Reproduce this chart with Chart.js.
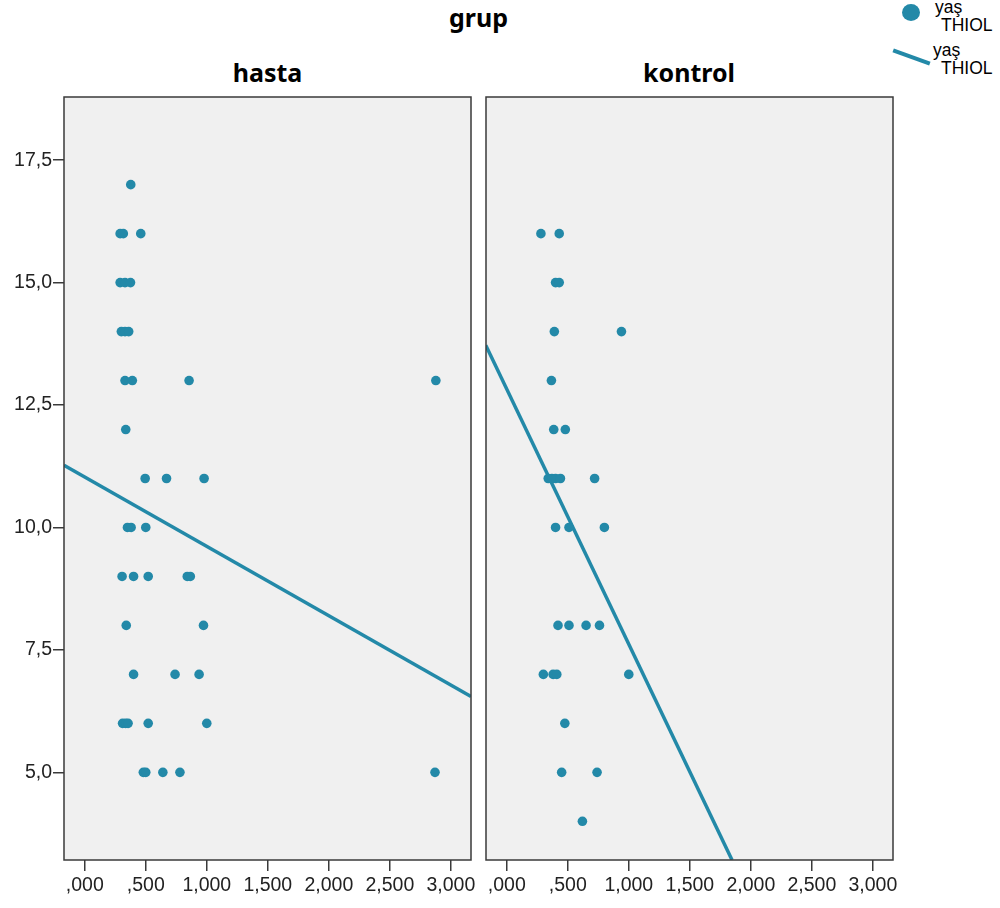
<!DOCTYPE html>
<html>
<head>
<meta charset="utf-8">
<script src="https://cdn.jsdelivr.net/npm/chart.js@4.4.1/dist/chart.umd.min.js"></script>
<style>
    body { margin: 0; background: #fff; width: 1000px; height: 908px; position: relative; overflow: hidden; }
    canvas { position: absolute; top: 0; }
    .ttl { position: absolute; font-family: 'Noto Sans', sans-serif; font-weight: bold; font-size: 25px; line-height: 25px; color: #000; text-align: center; white-space: nowrap; width: 200px; }
    .lg { position: absolute; font-family: 'Liberation Sans', Arial, sans-serif; font-size: 17.5px; line-height: 17px; color: #000; white-space: nowrap; }
</style>
</head>
<body>
<div class="ttl" style="left:378.5px; top:5px;">grup</div>
<div class="ttl" style="left:167.5px; top:60px;">hasta</div>
<div class="ttl" style="left:589px; top:60px;">kontrol</div>

<div style="position:absolute; left:902px; top:4px; width:18px; height:17px; border-radius:50%; background:#2389a8;"></div>
<div class="lg" style="left:935px; top:-1px;">yaş</div>
<div class="lg" style="left:941px; top:17px;">THIOL</div>
<div style="position:absolute; left:892px; top:54.5px; width:39px; height:4px; background:#2389a8; transform:rotate(20deg);"></div>
<div class="lg" style="left:933px; top:42px;">yaş</div>
<div class="lg" style="left:941px; top:60px;">THIOL</div>

<canvas id="hasta-chart" width="480" height="908" style="left:0; width:480px; height:908px;"></canvas>
<canvas id="kontrol-chart" width="420" height="908" style="left:480px; width:420px; height:908px;"></canvas>

<script>
// hasta group: THIOL (x) and yas (y)
var hastaThiol = [0.377,
    0.29, 0.316, 0.459,
    0.29, 0.33, 0.375,
    0.30, 0.33, 0.36,
    0.33, 0.39, 0.855, 2.877,
    0.336,
    0.495, 0.67, 0.978,
    0.35, 0.38, 0.50,
    0.306, 0.40, 0.52, 0.84, 0.865,
    0.34, 0.973,
    0.40, 0.74, 0.937,
    0.31, 0.335, 0.355, 0.52, 1.0,
    0.48, 0.50, 0.64, 0.78, 2.87];
var hastaYas = [17,
    16, 16, 16,
    15, 15, 15,
    14, 14, 14,
    13, 13, 13, 13,
    12,
    11, 11, 11,
    10, 10, 10,
    9, 9, 9, 9, 9,
    8, 8,
    7, 7, 7,
    6, 6, 6, 6, 6,
    5, 5, 5, 5, 5];

// kontrol group
var kontrolThiol = [0.28, 0.43,
    0.40, 0.43,
    0.39, 0.94,
    0.366,
    0.385, 0.48,
    0.34, 0.37, 0.40, 0.44, 0.72,
    0.40, 0.51, 0.80,
    0.42, 0.51, 0.65, 0.76,
    0.30, 0.38, 0.41, 1.00,
    0.476,
    0.45, 0.74,
    0.62];
var kontrolYas = [16, 16,
    15, 15,
    14, 14,
    13,
    12, 12,
    11, 11, 11, 11, 11,
    10, 10, 10,
    8, 8, 8, 8,
    7, 7, 7, 7,
    6,
    5, 5,
    4];

// fit line end points
var hastaFitThiol = [-0.17, 3.165];
var hastaFitYas = [11.27, 6.55];
var kontrolFitThiol = [-0.172, 1.846];
var kontrolFitYas = [13.72, 3.21];

var xTicks = [0, 0.5, 1, 1.5, 2, 2.5, 3];
var xTickLabels = [',000', ',500', '1,000', '1,500', '2,000', '2,500', '3,000'];
var yTicks = [5, 7.5, 10, 12.5, 15, 17.5];
var yTickLabels = ['5,0', '7,5', '10,0', '12,5', '15,0', '17,5'];

var markColor = '#2389a8';
var tickFont = { family: "'Liberation Sans', Arial, sans-serif", size: 19.5 };

var panelFrame = {
    id: 'panelFrame',
    beforeDraw: function (chart) {
        var a = chart.chartArea, c = chart.ctx;
        c.save();
        c.fillStyle = '#f0f0f0';
        c.fillRect(a.left, a.top, a.right - a.left, a.bottom - a.top);
        c.restore();
    },
    afterDraw: function (chart) {
        var a = chart.chartArea, c = chart.ctx;
        c.save();
        c.strokeStyle = '#3a3a3a';
        c.lineWidth = 1.5;
        c.strokeRect(a.left, a.top, a.right - a.left, a.bottom - a.top);
        c.restore();
    }
};

function makePanel(id, thiol, yas, fitX, fitY, showY, padLeft, padRight) {
    var points = [], fit = [];
    for (var i = 0; i < thiol.length; i++) {
        points.push({ x: thiol[i], y: yas[i] });
    }
    for (var i = 0; i < fitX.length; i++) {
        fit.push({ x: fitX[i], y: fitY[i] });
    }
    return new Chart(document.getElementById(id), {
        type: 'scatter',
        data: {
            datasets: [
                {
                    label: 'yaş THIOL',
                    data: points,
                    backgroundColor: markColor,
                    borderWidth: 0,
                    pointRadius: 4.8
                },
                {
                    label: 'yaş THIOL fit',
                    data: fit,
                    showLine: true,
                    borderColor: markColor,
                    borderWidth: 3.5,
                    pointRadius: 0,
                    clip: 0
                }
            ]
        },
        options: {
            responsive: false,
            animation: false,
            events: [],
            layout: { padding: { left: padLeft, right: padRight, top: 97, bottom: 0 } },
            plugins: { legend: { display: false }, tooltip: { enabled: false } },
            scales: {
                x: {
                    type: 'linear',
                    min: -0.17,
                    max: 3.165,
                    afterBuildTicks: function (s) { s.ticks = xTicks.map(function (v) { return { value: v }; }); },
                    afterFit: function (s) { s.height = 48; s.paddingLeft = 0; s.paddingRight = 0; },
                    border: { display: false },
                    grid: { display: true, drawOnChartArea: false, drawTicks: true, tickLength: 11, color: '#3a3a3a', lineWidth: 1.5 },
                    ticks: {
                        autoSkip: false,
                        maxRotation: 0,
                        padding: 3,
                        color: '#222',
                        font: tickFont,
                        callback: function (v) { return xTickLabels[xTicks.indexOf(v)]; }
                    }
                },
                y: {
                    type: 'linear',
                    display: showY,
                    min: 3.21,
                    max: 18.79,
                    afterBuildTicks: function (s) { s.ticks = yTicks.map(function (v) { return { value: v }; }); },
                    afterFit: function (s) { if (showY) { s.width = 64; } s.paddingTop = 0; s.paddingBottom = 0; },
                    border: { display: false },
                    grid: { display: true, drawOnChartArea: false, drawTicks: true, tickLength: 11, color: '#3a3a3a', lineWidth: 1.5 },
                    ticks: {
                        padding: 1,
                        color: '#222',
                        font: tickFont,
                        callback: function (v) { return yTickLabels[yTicks.indexOf(v)]; }
                    }
                }
            }
        },
        plugins: [panelFrame]
    });
}

makePanel('hasta-chart', hastaThiol, hastaYas, hastaFitThiol, hastaFitYas, true, 0, 9);
makePanel('kontrol-chart', kontrolThiol, kontrolYas, kontrolFitThiol, kontrolFitYas, false, 6, 7);
</script>
</body>
</html>
